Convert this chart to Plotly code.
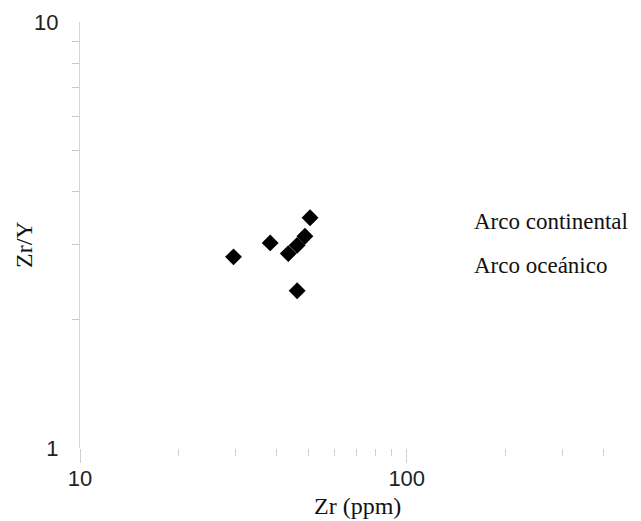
import plotly.graph_objects as go

# Data
zr = [29.5, 38.2, 43.4, 46.2, 48.8, 50.6, 46.2]
zr_y = [2.81, 3.03, 2.86, 2.99, 3.14, 3.47, 2.34]

x_major = [10, 100]
x_major_text = ["10", "100"]
x_minor = [20, 30, 40, 50, 60, 70, 80, 90, 200, 300, 400]
y_major = [1, 10]
y_major_text = ["1", "10"]
y_minor = [2, 3, 4, 5, 6, 7, 8, 9]

labels = ["Arco continental", "Arco oceánico"]

# page body has an 8px default margin; size the figure so it fills the window
O = 8
W, H = 641 - O, 521 - O
L, R, T, B = 72, 16, 14, 73
pw = W - L - R
ph = H - T - B

def px(xs):
    return (xs - O - L) / pw

def py(ys):
    return (H - B - (ys - O)) / ph

fig = go.Figure()
fig.add_trace(go.Scatter(
    x=zr, y=zr_y, mode="markers",
    marker=dict(symbol="diamond", size=13, color="black", line=dict(width=0)),
    showlegend=False, cliponaxis=False,
))

tick_font = dict(family="Liberation Sans, Arial, sans-serif", size=22, color="#222222")
serif = "Liberation Serif, Times New Roman, serif"

fig.update_xaxes(
    type="log", range=[1, 2.668], automargin=False,
    showline=False, showgrid=False, zeroline=False,
    tickmode="array", tickvals=x_major, ticktext=x_major_text,
    ticks="outside", ticklen=14, tickwidth=1, tickcolor="#cfcfcf",
    tickfont=tick_font, ticklabelstandoff=-3,
    minor=dict(tickmode="array", tickvals=x_minor, ticks="outside",
               ticklen=7, tickwidth=1, tickcolor="#cfcfcf", showgrid=False),
)
fig.update_yaxes(
    type="log", range=[0, 1], automargin=False,
    showline=True, linecolor="#d5d5d5", linewidth=1,
    showgrid=False, zeroline=False,
    tickmode="array", tickvals=y_major, ticktext=y_major_text,
    ticks="", tickfont=tick_font, ticklabelstandoff=16,
    minor=dict(tickmode="array", tickvals=y_minor, ticks="outside",
               ticklen=7, tickwidth=1, tickcolor="#c8c8c8", showgrid=False),
)

annotations = [
    dict(text="Zr/Y", x=px(24), y=py(245), xref="paper", yref="paper",
         textangle=-90, showarrow=False, xanchor="center", yanchor="middle",
         font=dict(family=serif, size=24, color="#111111")),
    dict(text="Zr (ppm)", x=px(357.5), y=py(506), xref="paper", yref="paper",
         showarrow=False, xanchor="center", yanchor="middle",
         font=dict(family=serif, size=24, color="#111111")),
    dict(text=labels[0], x=px(472), y=py(221.7), xref="paper", yref="paper",
         showarrow=False, xanchor="left", yanchor="middle",
         font=dict(family=serif, size=23, color="#111111")),
    dict(text=labels[1], x=px(472), y=py(265), xref="paper", yref="paper",
         showarrow=False, xanchor="left", yanchor="middle",
         font=dict(family=serif, size=23, color="#111111")),
]

fig.update_layout(
    width=W, height=H,
    margin=dict(l=L, r=R, t=T, b=B, pad=0, autoexpand=False),
    paper_bgcolor="white", plot_bgcolor="white",
    annotations=annotations,
    showlegend=False,
)

fig.write_html("out.html")
